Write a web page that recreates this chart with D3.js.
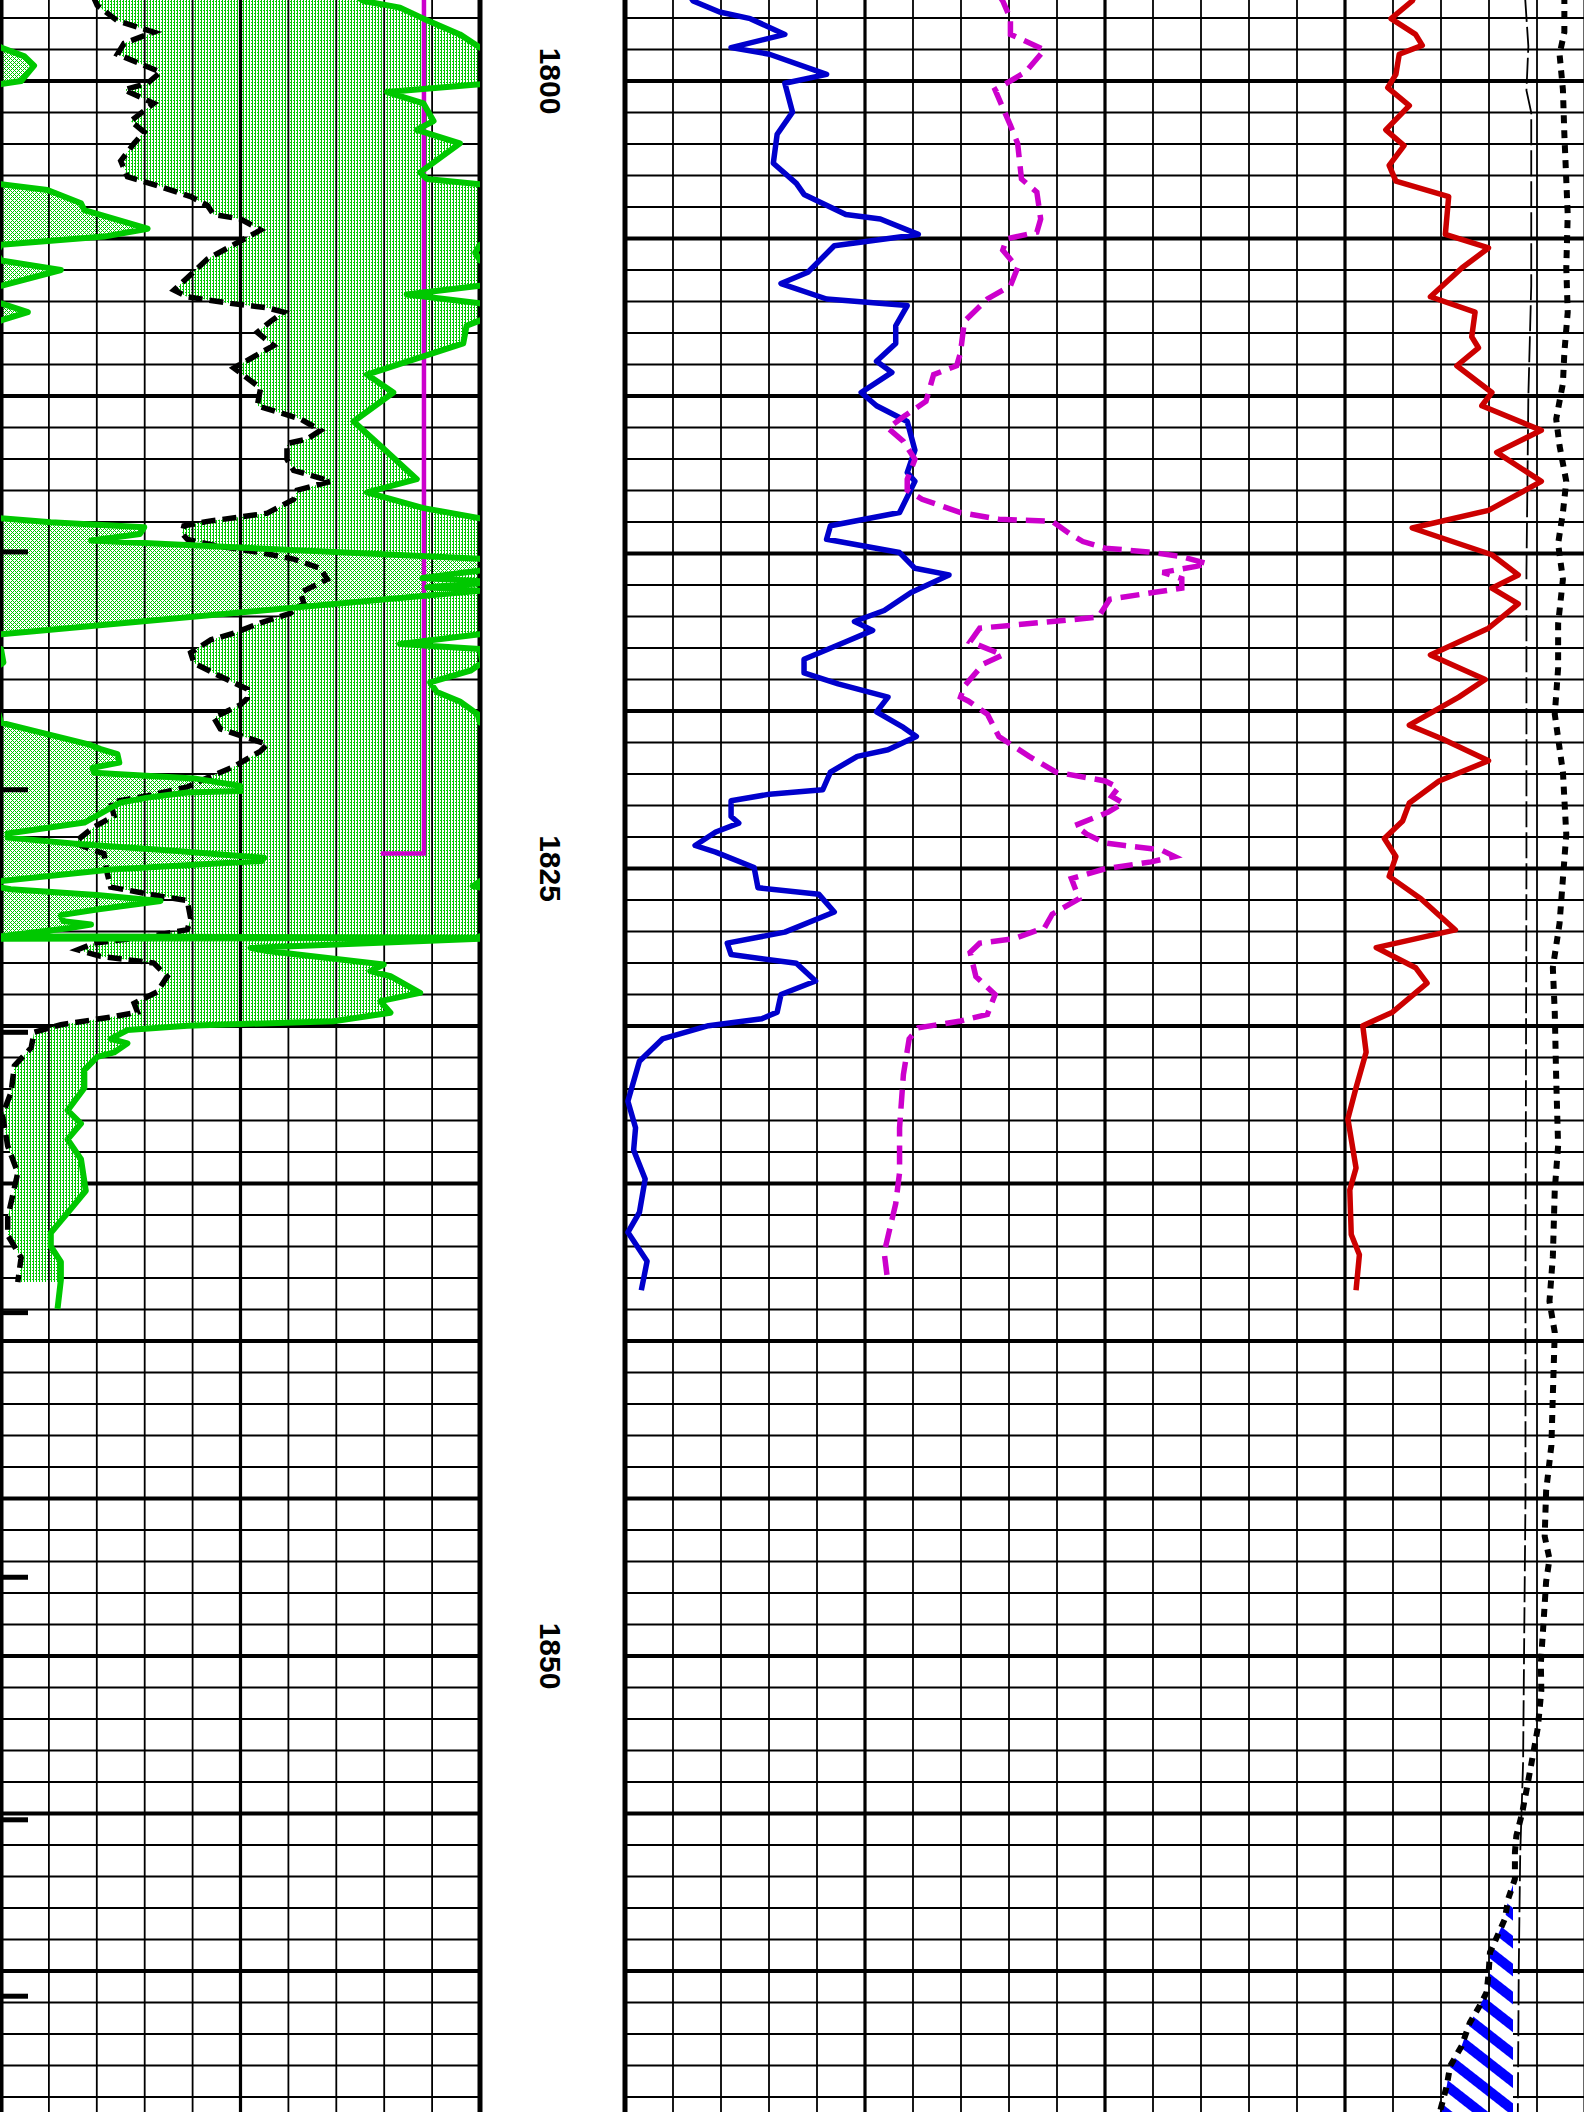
<!DOCTYPE html>
<html><head><meta charset="utf-8">
<script src="https://cdn.jsdelivr.net/npm/d3@7"></script>
<style>html,body{margin:0;padding:0;background:#fff;overflow:hidden}</style>
</head><body>
<svg id="chart" width="1584" height="2112"></svg>
<script>
// ---------- DATA (depth, value) ----------
// Track 1 (scale 0..10 divisions, values above 10 wrap into backup)
const grData = [
[1797.3,7.4],[1797.46,7.57],[1797.67,8.33],[1798.02,8.82],[1798.52,9.58],[1798.94,10.0],[1799.22,10.49],[1799.51,10.69],
[1800.0,10.42],[1800.10,10.0],[1800.35,8.06],[1800.71,8.82],[1801.27,9.03],[1801.55,8.68],[1801.98,9.58],[1802.90,8.75],
[1803.11,8.89],[1803.28,10.0],[1803.46,10.97],[1803.88,11.67],[1804.10,11.74],[1804.69,13.06],[1804.94,12.15],[1805.20,10.0],
[1805.45,9.9],[1805.70,10.0],[1806.0,11.25],[1806.50,10.0],[1806.78,8.47],[1807.06,10.0],[1807.34,10.56],[1807.60,10.0],
[1807.77,9.72],[1808.33,9.65],[1809.32,7.64],[1809.89,8.19],[1810.81,7.36],[1811.58,7.92],[1812.64,8.68],[1813.06,7.64],
[1813.56,8.82],[1813.88,10.0],[1814.01,11.04],[1814.17,12.99],[1814.38,12.9],[1814.59,11.88],[1815.17,20.0],[1815.44,20.5],
[1815.78,18.8],[1815.91,20.3],[1816.07,18.9],[1816.18,20.0],[1817.56,10.0],[1817.87,8.33],[1818.03,10.0],[1818.46,10.05],
[1818.72,9.8],[1819.09,8.96],[1819.4,9.1],[1819.7,9.58],[1820.1,9.95],[1820.37,10.0],[1820.63,10.69],[1821.05,11.81],
[1821.21,12.08],[1821.37,12.43],[1821.64,12.47],[1821.80,11.91],[1821.96,11.94],[1822.14,14.03],[1822.38,15.0],[1822.54,15.0],
[1822.59,13.89],[1822.75,13.06],[1822.91,12.5],[1823.07,12.3],[1823.54,11.74],[1823.89,10.14],[1824.02,10.14],[1824.23,11.67],
[1824.44,13.61],[1824.66,15.49],[1824.76,15.45],[1825.03,12.3],[1825.40,10.0],[1825.56,9.85],[1825.66,10.2],[1825.84,12.0],
[1826.03,13.33],[1826.30,12.0],[1826.48,11.25],[1826.67,11.3],[1826.78,11.88],[1826.90,11.4],[1827.15,10.0],[1827.20,20.0],
[1827.23,10.0],[1827.52,5.21],[1827.62,5.56],[1828.05,7.99],[1828.26,7.71],[1828.42,8.13],[1828.95,8.75],[1829.21,7.92],
[1829.58,8.13],[1829.85,6.94],[1829.99,3.89],[1830.13,2.64],[1830.41,2.29],[1830.55,2.64],[1830.84,2.36],[1830.98,2.01],
[1831.40,1.74],[1831.97,1.74],[1832.68,1.39],[1833.10,1.67],[1833.60,1.39],[1834.23,1.67],[1835.23,1.77],[1835.93,1.39],
[1836.57,1.04],[1837.0,1.04],[1837.49,1.25],[1838.06,1.25],[1838.98,1.18]
];
const spData = [
[1797.3,1.92],[1797.60,2.01],[1798.09,2.43],[1798.45,3.19],[1798.80,2.57],[1799.15,2.43],[1799.72,3.33],[1800.07,3.06],
[1800.28,2.57],[1800.71,3.19],[1801.27,2.71],[1801.62,2.99],[1801.98,2.78],[1802.54,2.50],[1803.04,2.64],[1803.32,3.26],
[1803.67,3.96],[1803.95,4.31],[1804.24,4.44],[1804.38,5.0],[1804.73,5.42],[1805.08,5.0],[1805.65,4.31],[1806.64,3.61],
[1806.85,3.89],[1807.06,4.79],[1807.20,5.56],[1807.34,5.90],[1807.63,5.63],[1807.98,5.35],[1808.40,5.69],[1809.11,4.86],
[1809.75,5.42],[1810.31,5.35],[1810.73,6.25],[1811.09,6.67],[1811.37,6.39],[1811.51,5.97],[1812.01,5.97],[1812.36,6.11],
[1812.71,6.88],[1812.99,6.18],[1813.28,6.11],[1813.72,5.56],[1813.84,5.0],[1813.98,4.31],[1814.12,3.82],[1814.36,3.78],
[1814.55,3.89],[1814.76,4.51],[1814.97,5.42],[1815.18,6.11],[1815.47,6.67],[1815.82,6.81],[1816.24,6.25],[1816.58,6.32],
[1816.90,6.04],[1817.20,5.42],[1817.53,4.86],[1817.74,4.38],[1818.15,3.96],[1818.48,4.03],[1818.85,4.51],[1819.30,5.14],
[1819.60,5.14],[1819.80,5.0],[1820.21,4.44],[1820.57,4.58],[1820.78,5.0],[1821.06,5.56],[1821.27,5.42],[1821.77,4.86],
[1822.12,4.31],[1822.41,3.89],[1822.69,3.06],[1822.90,2.29],[1823.33,2.36],[1823.68,1.94],[1824.18,1.53],[1824.39,1.88],
[1824.53,2.15],[1825.17,2.22],[1825.59,2.29],[1825.88,3.33],[1826.02,3.89],[1826.59,3.96],[1826.94,3.89],[1827.15,3.13],
[1827.37,1.94],[1827.58,1.60],[1827.79,2.08],[1828.00,3.19],[1828.43,3.47],[1828.92,3.26],[1829.28,2.78],[1829.56,2.85],
[1829.70,2.36],[1829.96,1.25],[1830.20,0.69],[1830.69,0.63],[1831.26,0.28],[1832.11,0.21],[1832.82,0.03],[1833.81,0.14],
[1834.66,0.35],[1836.08,0.14],[1836.64,0.14],[1837.35,0.42],[1838.13,0.35]
];
const flagData = [[1797.3,8.83],[1824.52,8.83],[1824.52,7.93]];
const markerDepths = [1814.95,1822.5,1830.2,1839.1,1847.5,1855.2,1860.8];

// Track 2 (scale 0..20 divisions)
const blueData = [
[1797.3,1.35],[1797.46,1.42],[1797.81,1.97],[1798.02,2.61],[1798.52,3.33],[1798.94,2.21],[1799.15,3.01],[1799.79,4.20],
[1800.07,3.33],[1800.99,3.49],[1801.69,3.17],[1802.61,3.09],[1803.25,3.57],[1803.60,3.73],[1804.24,4.60],[1804.38,5.32],
[1804.87,6.11],[1805.23,4.36],[1806.07,3.81],[1806.43,3.25],[1806.92,4.20],[1807.13,5.88],[1807.77,5.64],[1808.33,5.64],
[1808.90,5.24],[1809.25,5.56],[1809.89,4.92],[1810.31,5.24],[1810.81,5.88],[1811.72,6.04],[1812.43,5.88],[1812.71,6.04],
[1813.70,5.72],[1814.12,4.28],[1814.55,4.20],[1814.97,5.72],[1815.47,6.04],[1815.68,6.75],[1816.24,5.96],[1816.81,5.40],
[1817.16,4.78],[1817.44,5.16],[1817.80,4.60],[1818.36,3.73],[1818.79,3.73],[1819.14,4.44],[1819.56,5.48],[1820.03,5.24],
[1820.52,5.80],[1820.81,6.07],[1821.23,5.48],[1821.44,4.84],[1821.94,4.28],[1822.50,4.12],[1822.64,3.01],[1822.85,2.21],
[1823.35,2.21],[1823.56,2.37],[1823.84,1.89],[1824.27,1.46],[1824.48,1.89],[1824.97,2.69],[1825.61,2.77],[1825.82,4.04],
[1826.38,4.36],[1827.02,3.33],[1827.37,2.13],[1827.73,2.21],[1828.01,3.57],[1828.57,3.97],[1829.00,3.25],[1829.56,3.17],
[1829.77,2.85],[1829.99,1.74],[1830.41,0.78],[1831.12,0.30],[1832.39,0.06],[1833.23,0.22],[1833.94,0.18],[1834.86,0.42],
[1835.92,0.30],[1836.55,0.06],[1837.47,0.46],[1838.39,0.34]
];
const magData = [
[1797.3,7.8],[1797.46,7.87],[1798.02,8.03],[1798.52,8.03],[1799.01,8.74],[1799.72,8.34],[1800.28,7.71],[1801.41,8.03],
[1801.98,8.18],[1803.11,8.26],[1803.53,8.58],[1804.38,8.66],[1804.80,8.58],[1805.01,7.95],[1805.37,7.87],[1805.93,8.18],
[1806.50,8.03],[1806.92,7.55],[1807.63,7.07],[1808.62,6.99],[1809.04,6.91],[1809.32,6.43],[1810.17,6.27],[1810.66,5.80],
[1811.02,5.48],[1811.44,5.80],[1812.01,6.04],[1812.64,5.88],[1812.99,5.88],[1813.28,6.19],[1813.70,6.99],[1813.91,7.79],
[1813.98,8.90],[1814.41,9.30],[1814.62,9.54],[1814.83,10.0],[1814.95,10.9],[1815.10,11.6],[1815.32,12.13],[1815.41,11.9],
[1815.60,11.2],[1815.80,11.6],[1816.10,11.6],[1816.24,11.0],[1816.45,10.1],[1817.02,9.86],[1817.16,8.90],[1817.37,7.39],
[1817.80,7.19],[1818.22,7.87],[1818.50,7.47],[1819.21,7.07],[1819.56,6.99],[1819.68,7.15],[1820.10,7.55],[1820.81,7.79],
[1821.44,8.42],[1821.94,8.98],[1822.22,10.0],[1822.43,10.28],[1822.71,10.14],[1822.92,10.38],[1823.21,10.07],[1823.63,9.38],
[1823.91,9.62],[1824.19,10.0],[1824.27,10.41],[1824.41,11.17],[1824.62,11.45],[1824.79,10.96],[1825.01,10.0],[1825.32,9.30],
[1825.96,9.46],[1826.45,8.90],[1826.88,8.74],[1827.23,8.10],[1827.37,7.39],[1827.66,7.19],[1828.43,7.31],[1829.00,7.71],
[1829.63,7.55],[1829.84,6.99],[1830.06,6.11],[1830.41,5.92],[1831.54,5.80],[1833.23,5.72],[1834.65,5.72],[1835.64,5.64],
[1837.19,5.40],[1838.18,5.48]
];
const redData = [
[1797.3,16.45],[1797.46,16.40],[1798.02,15.96],[1798.52,16.47],[1798.87,16.61],[1799.15,16.13],[1799.79,16.06],[1800.21,15.89],
[1800.78,16.34],[1801.55,15.85],[1802.05,16.23],[1802.68,15.92],[1803.18,16.06],[1803.67,17.16],[1804.87,17.09],[1805.30,17.99],
[1805.93,17.44],[1806.85,16.78],[1807.34,17.71],[1808.12,17.64],[1808.47,17.78],[1809.04,17.33],[1809.89,18.06],[1810.31,17.85],
[1811.09,19.09],[1811.79,18.16],[1812.71,19.09],[1813.63,17.99],[1814.19,16.40],[1815.04,18.06],[1815.68,18.61],[1816.10,18.06],
[1816.60,18.61],[1817.37,17.99],[1818.22,16.78],[1819.00,17.92],[1819.56,17.37],[1820.45,16.34],[1820.88,17.02],[1821.58,17.99],
[1822.22,16.96],[1822.92,16.34],[1823.49,16.20],[1824.05,15.82],[1824.62,16.06],[1825.25,15.92],[1825.96,16.58],[1826.95,17.30],
[1827.51,15.65],[1828.15,16.47],[1828.64,16.71],[1829.56,15.99],[1829.99,15.37],[1830.83,15.44],[1831.96,15.23],[1832.95,15.06],
[1834.51,15.23],[1835.21,15.10],[1836.62,15.13],[1837.26,15.30],[1838.39,15.23]
];
const thinData = [
[1797.3,18.75],[1798.9,18.82],[1800.3,18.78],[1801.0,18.88],[1806.5,18.88],[1810.0,18.82],[1815.6,18.78],[1825.0,18.78],
[1838.0,18.76],[1845.0,18.76],[1850.0,18.73],[1853.4,18.71],[1856.3,18.65],[1859.9,18.62],[1864.7,18.6]
];
const dotData = [
[1797.3,19.57],[1798.45,19.57],[1799.15,19.47],[1800.28,19.54],[1801.69,19.57],[1804.24,19.64],[1805.93,19.61],[1807.34,19.64],
[1808.62,19.57],[1809.60,19.54],[1810.73,19.40],[1811.58,19.47],[1812.71,19.61],[1813.70,19.54],[1814.69,19.44],[1815.82,19.54],
[1817.23,19.44],[1818.64,19.44],[1819.49,19.40],[1820.10,19.37],[1821.94,19.54],[1823.91,19.61],[1825.32,19.54],[1826.74,19.47],
[1828.15,19.33],[1829.56,19.37],[1831.68,19.40],[1833.80,19.44],[1835.21,19.37],[1837.33,19.33],[1838.74,19.26],[1839.73,19.37],
[1841.71,19.33],[1843.31,19.30],[1844.76,19.19],[1846.20,19.16],[1846.92,19.26],[1847.64,19.19],[1849.08,19.13],[1850.23,19.08],
[1851.10,19.09],[1852.25,19.02],[1853.11,18.92],[1853.69,18.85],[1854.27,18.78],[1854.99,18.69],[1855.71,18.57],[1856.23,18.54],
[1857.08,18.54],[1857.71,18.40],[1858.35,18.33],[1859.04,18.13],[1859.41,18.02],[1860.10,17.99],[1860.68,17.95],[1861.10,17.81],
[1861.64,17.60],[1862.38,17.43],[1863.02,17.19],[1863.65,17.12],[1864.45,16.98],[1864.7,16.94]
];
const hatchCutoff = 18.5;
const depthLabels = [1800, 1825, 1850];

// ---------- LAYOUT ----------
const W = 1584, H = 2112;
const y = d3.scaleLinear().domain([1800, 1850]).range([81, 1656]);
const xL = d3.scaleLinear().domain([0, 10]).range([1, 480]);
const xR = d3.scaleLinear().domain([0, 20]).range([625, 1585]);
const GREEN = "#00c800", BLUE = "#0000cc", RED = "#cc0000", MAG = "#cc00cc";

const svg = d3.select("#chart");
const defs = svg.append("defs");

const p1 = defs.append("pattern").attr("id", "grFill").attr("width", 3).attr("height", 3).attr("patternUnits", "userSpaceOnUse");
p1.append("rect").attr("width", 3).attr("height", 3).attr("fill", "#fff");
p1.append("rect").attr("x", 0).attr("y", 0).attr("width", 1).attr("height", 3).attr("fill", GREEN);
p1.append("rect").attr("x", 2).attr("y", 1).attr("width", 1).attr("height", 1).attr("fill", GREEN);
const p2 = defs.append("pattern").attr("id", "grFill2").attr("width", 4).attr("height", 4).attr("patternUnits", "userSpaceOnUse");
p2.append("rect").attr("width", 4).attr("height", 4).attr("fill", "#fff");
[[0,0],[1,1],[2,2],[3,3],[3,1],[1,3]].forEach(([a,b]) =>
  p2.append("rect").attr("x", a).attr("y", b).attr("width", 1).attr("height", 1).attr("fill", GREEN));
const p3 = defs.append("pattern").attr("id", "hatch").attr("width", 22).attr("height", 22)
  .attr("patternUnits", "userSpaceOnUse").attr("patternTransform", "rotate(38)");
p3.append("rect").attr("width", 22).attr("height", 22).attr("fill", "#fff");
p3.append("rect").attr("width", 22).attr("height", 10).attr("fill", "#0000ff");

defs.append("clipPath").attr("id", "clipL").append("rect")
  .attr("x", xL(0)).attr("y", 0).attr("width", xL(10) - xL(0)).attr("height", H);
defs.append("clipPath").attr("id", "clipR").append("rect")
  .attr("x", xR(0)).attr("y", 0).attr("width", W - xR(0)).attr("height", H);
defs.append("clipPath").attr("id", "clipSP").append("path")
  .attr("d", d3.area().y(d => y(d[0])).x0(d => xL(d[1])).x1(xL(10) + 60)(spData));
defs.append("clipPath").attr("id", "clipHatch").append("rect")
  .attr("x", xR(0)).attr("y", 0).attr("width", xR(hatchCutoff) - xR(0)).attr("height", H);

svg.append("rect").attr("width", W).attr("height", H).attr("fill", "#fff");

// horizontal grid
const depthTicks = d3.range(1797, 1866);
const gH = svg.append("g");
[[xL(0), xL(10)], [xR(0), W]].forEach(([a, b]) => {
  gH.selectAll(null).data(depthTicks).enter().append("line")
    .attr("x1", a).attr("x2", b).attr("y1", d => y(d)).attr("y2", d => y(d))
    .attr("stroke", "#000").attr("stroke-width", d => d % 5 === 0 ? 3.8 : 1.8);
});

// fills
const fL = svg.append("g").attr("clip-path", "url(#clipL)");
fL.append("g").attr("clip-path", "url(#clipSP)").append("path")
  .attr("d", d3.area().y(d => y(d[0])).x0(-200).x1(d => xL(d[1]))(grData))
  .attr("fill", "url(#grFill)");
fL.append("path")
  .attr("d", d3.area().y(d => y(d[0])).x0(xL(0)).x1(d => xL(d[1] - 10))(grData))
  .attr("fill", "url(#grFill2)");
svg.append("g").attr("clip-path", "url(#clipHatch)").append("path")
  .attr("d", d3.area().y(d => y(d[0])).x0(d => xR(d[1])).x1(xR(hatchCutoff))(dotData))
  .attr("fill", "url(#hatch)");

// vertical grid
const gV = svg.append("g");
gV.selectAll(null).data(d3.range(0, 11)).enter().append("line")
  .attr("x1", d => xL(d)).attr("x2", d => xL(d)).attr("y1", 0).attr("y2", H)
  .attr("stroke", "#000").attr("stroke-width", d => (d === 0 || d === 10) ? 5 : (d === 5 ? 3.2 : 1.8));
gV.selectAll(null).data(d3.range(0, 21)).enter().append("line")
  .attr("x1", d => xR(d)).attr("x2", d => xR(d)).attr("y1", 0).attr("y2", H)
  .attr("stroke", "#000").attr("stroke-width", d => d === 0 ? 5 : (d % 5 === 0 ? 3.2 : 1.8));

// curves track 1
const cL = svg.append("g").attr("clip-path", "url(#clipL)");
const lineL = (off) => d3.line().x(d => xL(d[1] - off)).y(d => y(d[0]));
cL.append("path").attr("d", lineL(0)(spData)).attr("fill", "none").attr("stroke", "#000")
  .attr("stroke-width", 5.5).attr("stroke-dasharray", "14,7");
cL.append("path").attr("d", lineL(0)(flagData)).attr("fill", "none").attr("stroke", MAG)
  .attr("stroke-width", 4.5);
cL.append("path").attr("d", lineL(0)(grData)).attr("fill", "none").attr("stroke", GREEN)
  .attr("stroke-width", 6).attr("stroke-linejoin", "round");
cL.append("path").attr("d", lineL(10)(grData)).attr("fill", "none").attr("stroke", GREEN)
  .attr("stroke-width", 6).attr("stroke-linejoin", "round");

// curves track 2
const cR = svg.append("g").attr("clip-path", "url(#clipR)");
const lineR = d3.line().x(d => xR(d[1])).y(d => y(d[0]));
cR.append("path").attr("d", lineR(thinData)).attr("fill", "none").attr("stroke", "#000")
  .attr("stroke-width", 1.8).attr("stroke-dasharray", "26,5");
cR.append("path").attr("d", lineR(dotData)).attr("fill", "none").attr("stroke", "#000")
  .attr("stroke-width", 6).attr("stroke-dasharray", "8,7");
cR.append("path").attr("d", lineR(blueData)).attr("fill", "none").attr("stroke", BLUE)
  .attr("stroke-width", 5.5).attr("stroke-linejoin", "round");
cR.append("path").attr("d", lineR(magData)).attr("fill", "none").attr("stroke", MAG)
  .attr("stroke-width", 5.5).attr("stroke-dasharray", "19,9");
cR.append("path").attr("d", lineR(redData)).attr("fill", "none").attr("stroke", RED)
  .attr("stroke-width", 5.5).attr("stroke-linejoin", "round");

// depth markers on left edge
svg.append("g").selectAll(null).data(markerDepths).enter().append("rect")
  .attr("x", 0).attr("y", d => y(d) - 2.5).attr("width", 28).attr("height", 5).attr("fill", "#000");

// depth labels
svg.append("g").selectAll(null).data(depthLabels).enter().append("text")
  .attr("transform", d => `translate(550,${y(d)}) rotate(90)`)
  .attr("text-anchor", "middle").attr("dominant-baseline", "central")
  .attr("font-family", "Liberation Sans, Arial, sans-serif").attr("font-size", 30)
  .attr("font-weight", "bold")
  .attr("fill", "#000").text(d => d);
</script>
</body></html>
